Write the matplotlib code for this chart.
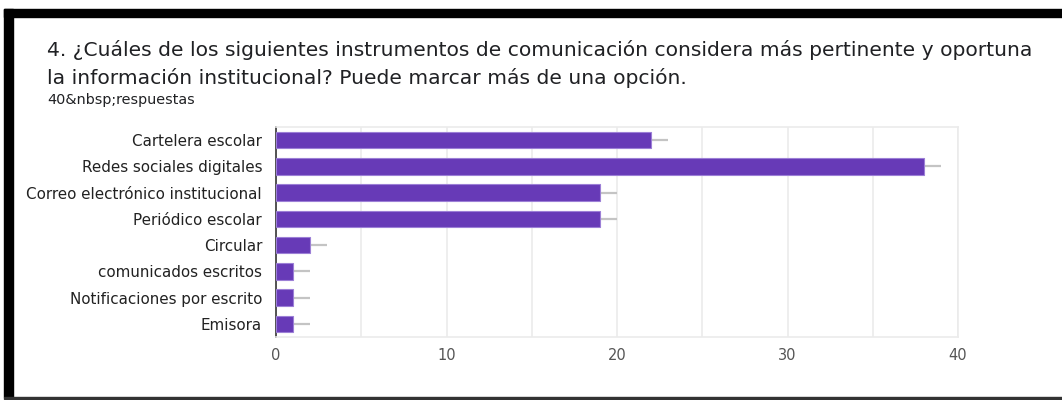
import matplotlib.pyplot as plt
from matplotlib.patches import Rectangle

categories = [
    "Cartelera escolar",
    "Redes sociales digitales",
    "Correo electrónico institucional",
    "Periódico escolar",
    "Circular",
    "comunicados escritos",
    "Notificaciones por escrito",
    "Emisora",
]
counts = [22, 38, 19, 19, 2, 1, 1, 1]
whisker = [1, 1, 1, 1, 1, 1, 1, 1]
x_ticks = [0, 10, 20, 30, 40]

title_lines = [
    "4. ¿Cuáles de los siguientes instrumentos de comunicación considera más pertinente y oportuna",
    "la información institucional? Puede marcar más de una opción.",
]
subtitle = "40&nbsp;respuestas"

W, H = 1062, 400
fig = plt.figure(figsize=(W / 100, H / 100), dpi=100)
fig.patch.set_facecolor("white")

# black frame around the card
fig.patches.append(Rectangle((4 / W, 1 - 17 / H), 1 - 4 / W, 8 / H,
                             transform=fig.transFigure, color="black", zorder=0))
fig.patches.append(Rectangle((4 / W, 3 / H), 9 / W, 1 - 12 / H,
                             transform=fig.transFigure, color="black", zorder=0))
fig.patches.append(Rectangle((4 / W, 1 / H), 1 - 4 / W, 2.5 / H,
                             transform=fig.transFigure, color="#333333", zorder=0))

# title: size the font so the first line spans the card width
t1 = fig.text(47 / W, 1 - 50 / H, title_lines[0], fontsize=13, family="DejaVu Sans",
              color="#202124", va="center", ha="left")
renderer = fig.canvas.get_renderer()
size = 13 * 983 / t1.get_window_extent(renderer).width
t1.set_fontsize(size)
fig.text(47 / W, 1 - 78 / H, title_lines[1], fontsize=size, family="DejaVu Sans",
         color="#202124", va="center", ha="left")
fig.text(47 / W, 1 - 100 / H, subtitle, fontsize=10.4, family="DejaVu Sans", color="#202124",
         va="center", ha="left")

ax = fig.add_axes([276 / W, 63 / H, 682 / W, 210 / H])
y = list(range(len(categories)))
ax.barh(y, counts, height=0.62, color="#673AB7", edgecolor="#9c7fd6", linewidth=0.8, zorder=3)
ax.errorbar(counts, y, xerr=[[0] * len(counts), whisker], fmt="none",
            ecolor="#c4c4c4", elinewidth=1.6, capsize=0, zorder=2)

ax.set_xlim(0, 40)
ax.set_ylim(len(categories) - 0.5, -0.5)
ax.set_yticks(y)
ax.set_yticklabels(categories, family="DejaVu Sans", fontsize=10.9, color="#222222")
ax.set_xticks(x_ticks)
ax.set_xticklabels([str(t) for t in x_ticks], family="DejaVu Sans", fontsize=10.5,
                   color="#555555")
ax.set_xticks([5, 15, 25, 35], minor=True)
ax.tick_params(axis="both", which="both", length=0)
ax.tick_params(axis="x", pad=8)
ax.tick_params(axis="y", pad=10)
ax.grid(axis="x", which="both", color="#ebebeb", linewidth=1.2, zorder=0)

for side in ["top", "right", "bottom"]:
    ax.spines[side].set_color("#ebebeb")
    ax.spines[side].set_linewidth(1.2)
ax.spines["left"].set_color("#444444")
ax.spines["left"].set_linewidth(1.3)

fig.savefig("out.png", dpi=100)
